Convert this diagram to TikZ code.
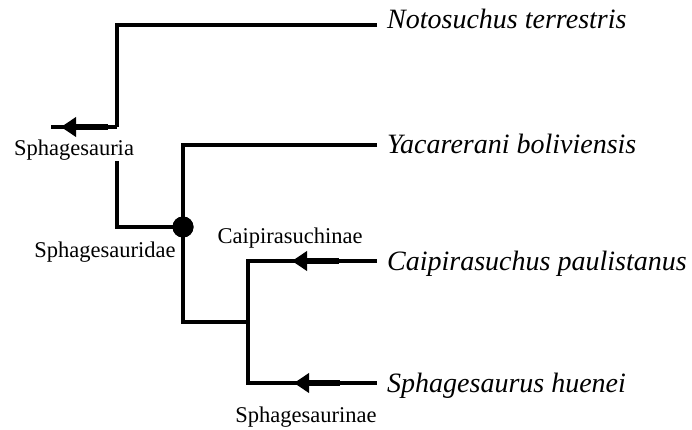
\documentclass[tikz,border=0pt]{standalone}
\usepackage{fontspec}
\setmainfont{Liberation Serif}
\usetikzlibrary{arrows.meta}
\begin{document}
\begin{tikzpicture}[x=1pt,y=-1pt,
  branch/.style={line width=3.1pt, line join=miter},
  shaft/.style={line width=5.5pt, -{Triangle[length=15pt,width=19pt]}},
  species/.style={font=\fontsize{28}{30}\selectfont\itshape, anchor=base west, inner sep=0pt},
  clade/.style={font=\fontsize{22.5}{24}\selectfont, anchor=base, inner sep=0pt}]
\useasboundingbox (0,0) rectangle (692,430);
% tips
\coordinate (e1) at (377,25);
\coordinate (e2) at (377,145);
\coordinate (e3) at (377,261);
\coordinate (e4) at (377,383);
\node[species] (nt) at (387,29) {Notosuchus terrestris};
\node[species] (yb) at (387,154) {Yacarerani boliviensis};
\node[species] (cp) at (387,270) {Caipirasuchus paulistanus};
\node[species] (sh) at (387,392) {Sphagesaurus huenei};
% internal points
\coordinate (rA) at (117,127);
\coordinate (rB) at (117,161);
\coordinate (k) at (183,322);
\coordinate (s) at (248,322);
\coordinate (a0) at (51,127);
\coordinate (a1) at (108,127);
\coordinate (a2) at (61,127);
\coordinate (b1) at (339,261);
\coordinate (b2) at (292,261);
\coordinate (d1) at (340,383);
\coordinate (d2) at (294,383);
\node[circle, fill, inner sep=0pt, minimum size=21pt] (c) at (183,227) {};
% branches
\draw[branch] (e1) -| (rA);
\draw[branch] (rB) |- (c.center);
\draw[branch] (e2) -| (k) -- (s);
\draw[branch] (e3) -| (s) |- (e4);
\draw[branch] (rA) -- (a0);
% apomorphy arrows
\draw[shaft] (a1) -- (a2);
\draw[shaft] (b1) -- (b2);
\draw[shaft] (d1) -- (d2);
\node[circle, fill, inner sep=0pt, minimum size=21pt] at (c) {};
% clade labels
\node[clade] (l1) at (74,156) {Sphagesauria};
\node[clade] (l2) at (105,257) {Sphagesauridae};
\node[clade] (l3) at (290,243) {Caipirasuchinae};
\node[clade] (l4) at (306,422) {Sphagesaurinae};
\end{tikzpicture}
\end{document}
